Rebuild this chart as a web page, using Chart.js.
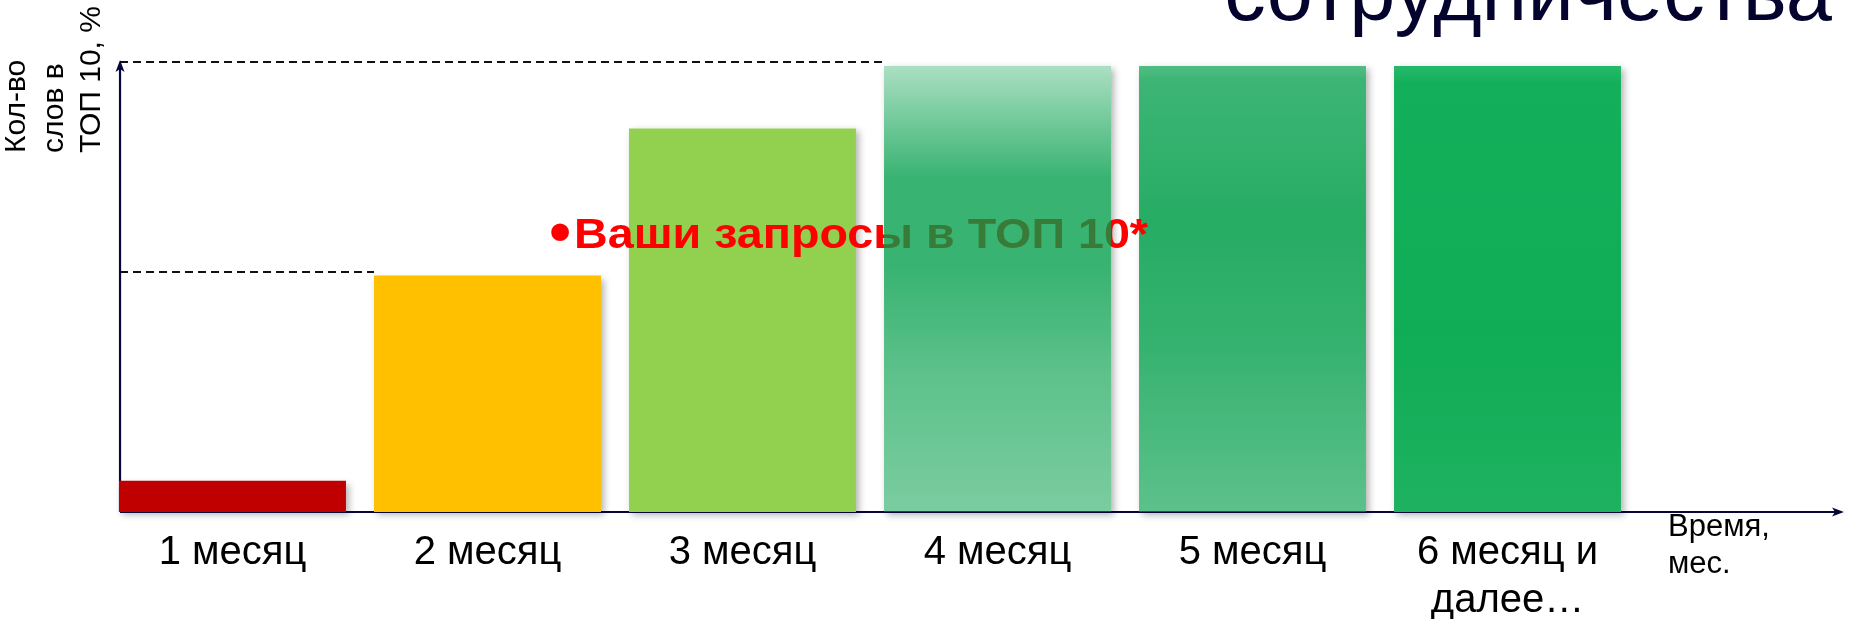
<!DOCTYPE html>
<html>
<head>
<meta charset="utf-8">
<script src="https://cdn.jsdelivr.net/npm/chart.js@4/dist/chart.umd.min.js"></script>
<style>
    html, body { margin: 0; padding: 0; background: #fff; }
</style>
</head>
<body>
<canvas id="topChart" width="1851" height="619"></canvas>
<script>
const months = ["1 месяц", "2 месяц", "3 месяц", "4 месяц", "5 месяц", ["6 месяц и", "далее…"]];
const topShare = [7, 53, 86, 100, 100, 100];
const yLabel = ["Кол-во", "слов в", "ТОП 10, %"];
const xLabel = ["Время,", "мес."];
const calloutBullet = "•";
const callout = "Ваши запросы в ТОП 10*";
const titleTail = "сотрудничества";

// fills per bar: plain colour or vertical gradient stops
const barFills = [
    "#c00000",
    "#ffc000",
    "#92d050",
    [[0, "rgba(0,158,73,0.33)"], [0.25, "rgba(0,158,73,0.78)"], [0.45, "rgba(0,158,73,0.78)"], [0.7, "rgba(0,158,73,0.63)"], [1, "rgba(0,158,73,0.52)"]],
    [[0, "rgba(0,158,73,0.68)"], [0.03, "rgba(0,158,73,0.76)"], [0.35, "rgba(0,158,73,0.85)"], [0.6, "rgba(0,158,73,0.8)"], [1, "rgba(0,158,73,0.64)"]],
    [[0, "rgb(36,186,106)"], [0.04, "rgb(20,175,90)"], [0.6, "rgb(16,172,86)"], [1, "rgb(30,178,96)"]],
];

const FONT = "'Liberation Sans', Arial, sans-serif";
const AXIS_COLOR = "#06063a";

function barFill(ctx) {
    const fill = barFills[ctx.dataIndex];
    if (typeof fill === "string") return fill;
    const chart = ctx.chart;
    const y = chart.scales.y;
    if (!chart.chartArea || !y) return fill[1][1];
    const top = y.getPixelForValue(topShare[ctx.dataIndex]);
    const bottom = y.getPixelForValue(0);
    const g = chart.ctx.createLinearGradient(0, top, 0, bottom);
    fill.forEach((s) => g.addColorStop(s[0], s[1]));
    return g;
}

function barLeft(chart, index) {
    const di = index === 3 ? 0 : 1;
    const bar = chart.getDatasetMeta(di).data[index];
    return bar.x - bar.width / 2;
}

const overlay = {
    id: "overlay",
    beforeDatasetsDraw(chart) {
        const c = chart.ctx;
        const y = chart.scales.y;
        const axisY = y.getPixelForValue(0);
        const axisX = barLeft(chart, 0) + 1;

        // soft shadows behind the bars
        c.save();
        c.fillStyle = "#fff";
        c.shadowColor = "rgba(0,0,0,0.3)";
        c.shadowBlur = 7;
        c.shadowOffsetX = 3;
        c.shadowOffsetY = 3;
        chart.data.datasets.forEach((ds, di) => {
            chart.getDatasetMeta(di).data.forEach((bar, i) => {
                if (ds.data[i] == null) return;
                c.fillRect(bar.x - bar.width / 2, bar.y, bar.width, bar.base - bar.y);
            });
        });
        c.restore();

        // dashed guides
        c.save();
        c.strokeStyle = "#111";
        c.lineWidth = 2;
        c.setLineDash([8, 5]);
        [[1, 1], [3, 3]].forEach(([valIdx, endIdx]) => {
            const py = Math.round(y.getPixelForValue(topShare[valIdx])) - 4;
            c.beginPath();
            c.moveTo(axisX, py);
            c.lineTo(barLeft(chart, endIdx), py);
            c.stroke();
        });
        c.restore();

        // axes with arrows
        c.save();
        c.strokeStyle = AXIS_COLOR;
        c.fillStyle = AXIS_COLOR;
        c.lineWidth = 2.2;
        const yTip = y.getPixelForValue(topShare[3]) - 6;
        const xTip = 1844;
        c.beginPath();
        c.moveTo(axisX, axisY);
        c.lineTo(axisX, yTip + 6);
        c.moveTo(axisX, axisY);
        c.lineTo(xTip - 6, axisY);
        c.stroke();
        c.beginPath();
        c.moveTo(axisX, yTip);
        c.lineTo(axisX - 4.5, yTip + 12);
        c.lineTo(axisX, yTip + 9);
        c.lineTo(axisX + 4.5, yTip + 12);
        c.closePath();
        c.fill();
        c.beginPath();
        c.moveTo(xTip, axisY);
        c.lineTo(xTip - 12, axisY - 4.5);
        c.lineTo(xTip - 9, axisY);
        c.lineTo(xTip - 12, axisY + 4.5);
        c.closePath();
        c.fill();
        c.restore();
    },
    afterDatasetDraw(chart, args) {
        // callout sits above bars 1-3, 5, 6 but under bar 4
        if (args.index !== 1) return;
        const c = chart.ctx;
        c.save();
        c.fillStyle = "#ff0000";
        c.font = "bold 62px " + FONT;
        c.textAlign = "center";
        c.textBaseline = "middle";
        c.fillText(calloutBullet, 560, 235);
        c.font = "bold 42px " + FONT;
        c.textAlign = "left";
        c.textBaseline = "alphabetic";
        const w = c.measureText(callout).width;
        c.translate(574, 248);
        c.scale(574 / w, 1);
        c.fillText(callout, 0, 0);
        c.restore();
    },
    afterDraw(chart) {
        const c = chart.ctx;
        c.save();
        c.fillStyle = "#000";
        c.textBaseline = "alphabetic";

        // y axis title, rotated
        c.font = "30px " + FONT;
        c.textAlign = "left";
        const baselines = [25, 63, 100];
        yLabel.forEach((line, i) => {
            c.save();
            c.translate(baselines[i], 153);
            c.rotate(-Math.PI / 2);
            c.fillText(line, 0, 0);
            c.restore();
        });

        // x axis title
        c.font = "31px " + FONT;
        c.fillText(xLabel[0], 1668, 536);
        c.fillText(xLabel[1], 1668, 573);

        // slide title tail cut at the top edge
        c.font = "83px " + FONT;
        c.fillStyle = "#03032e";
        c.textAlign = "right";
        c.fillText(titleTail, 1832, 20);
        c.restore();
    },
};

const ctx = document.getElementById("topChart").getContext("2d");

new Chart(ctx, {
    type: "bar",
    data: {
        labels: months,
        datasets: [
            {
                label: "4 месяц",
                data: topShare.map((v, i) => (i === 3 ? v : null)),
                backgroundColor: barFill,
                borderWidth: 0,
            },
            {
                label: "ТОП 10",
                data: topShare.map((v, i) => (i === 3 ? null : v)),
                backgroundColor: barFill,
                borderWidth: 0,
            },
        ],
    },
    options: {
        responsive: false,
        animation: false,
        events: [],
        layout: {
            padding: { top: 66, left: 105, right: 216, bottom: 0 },
        },
        datasets: {
            bar: {
                grouped: false,
                categoryPercentage: 1,
                barPercentage: 0.89,
            },
        },
        plugins: {
            legend: { display: false },
            tooltip: { enabled: false },
        },
        scales: {
            x: {
                grid: { display: false, drawTicks: false },
                border: { display: false },
                ticks: {
                    color: "#000",
                    padding: 17,
                    maxRotation: 0,
                    autoSkip: false,
                    font: { family: FONT, size: 40, lineHeight: 1.2 },
                },
                afterFit(scale) {
                    scale.height = 107;
                },
            },
            y: {
                display: false,
                min: 0,
                max: 100,
            },
        },
    },
    plugins: [overlay],
});
</script>
</body>
</html>
